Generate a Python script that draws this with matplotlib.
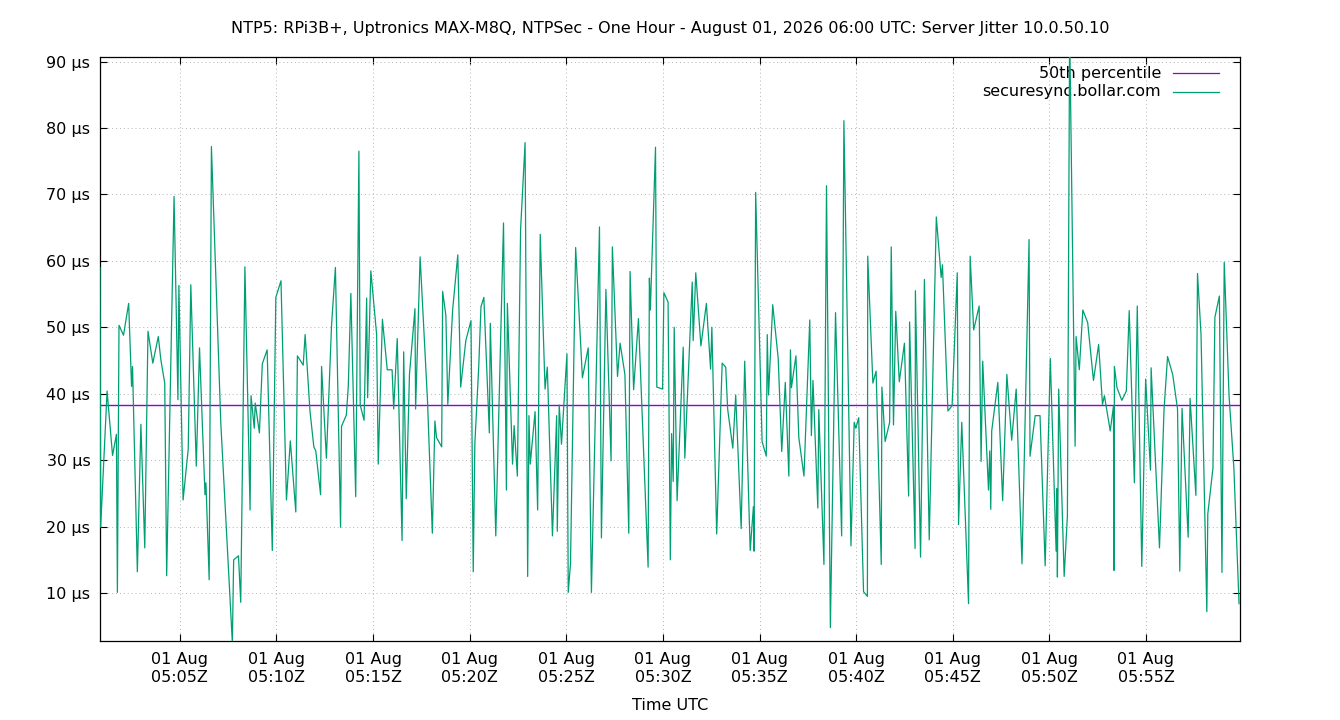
import matplotlib
matplotlib.use('Agg')
import matplotlib.pyplot as plt

title = ('NTP5: RPi3B+, Uptronics MAX-M8Q, NTPSec - One Hour - '
         'August 01, 2026 06:00 UTC: Server Jitter 10.0.50.10')
server = 'securesync.bollar.com'

# seconds after 05:00:00 UTC
t_sec = [52, 54, 74, 91, 103, 106, 111, 125, 141, 150, 153, 168, 179, 191, 201, 216,
         233, 241, 253, 259, 282, 294, 297, 310, 326, 334, 351, 361, 378, 381, 391, 398,
         427, 463, 467, 482, 489, 502, 518, 521, 531, 534, 547, 556, 571, 587, 598, 614, 631,
         643, 660, 665, 683, 689, 704, 716, 722, 737, 740, 755, 771, 783, 799, 802, 817,
         823, 831, 846, 856, 860, 872, 880, 883, 893, 911, 916, 929, 944, 959, 964, 975,
         990, 995, 1003, 1013, 1030, 1032, 1046, 1069, 1084, 1092, 1097, 1113, 1116, 1126,
         1132, 1147, 1163, 1172, 1188, 1204, 1211,
         1216, 1228, 1235, 1244, 1261, 1264, 1281, 1305, 1314, 1317, 1333, 1338, 1348, 1358,
         1372, 1380, 1384, 1388, 1403, 1411, 1419, 1434, 1441, 1457, 1470, 1472, 1478, 1485,
         1502, 1506, 1513, 1529, 1550, 1568, 1578, 1603, 1609, 1623, 1639, 1643, 1659, 1667,
         1682, 1694, 1698, 1709, 1724, 1754, 1758, 1761, 1777, 1781, 1799, 1803, 1816,
         1823, 1827, 1832, 1835, 1844, 1863, 1868, 1891, 1894, 1902, 1918, 1935, 1948, 1952,
         1967, 1984, 1995, 2001, 2017, 2026, 2043, 2054, 2071, 2081, 2083, 2088, 2108, 2121,
         2124, 2128, 2141, 2158, 2169, 2180, 2191, 2196, 2199, 2213, 2222, 2238, 2256, 2261,
         2266, 2281, 2284, 2300, 2308, 2320, 2336, 2355, 2362, 2384, 2394, 2399, 2408,
         2423, 2435, 2436, 2452, 2462, 2478, 2480, 2490, 2504, 2509, 2516, 2523, 2534, 2550,
         2563, 2566, 2583, 2584, 2600, 2612, 2627, 2649, 2664, 2668, 2685, 2698, 2714, 2718,
         2728, 2749, 2754, 2765, 2782, 2788, 2793, 2811, 2815, 2818, 2821, 2840, 2855, 2868,
         2883, 2897, 2915, 2937, 2940, 2956, 2971, 2987,
         3003, 3021, 3023, 3025, 3029, 3046, 3056, 3063, 3080, 3083, 3093, 3104, 3119, 3137,
         3153, 3165, 3171, 3189, 3199, 3201, 3202, 3210, 3225, 3239, 3248, 3264, 3273, 3287,
         3299, 3314, 3316, 3342, 3356, 3367, 3383, 3398, 3405, 3412, 3431, 3437, 3455, 3460,
         3471, 3489, 3492, 3508, 3514, 3528, 3536, 3543, 3558, 3573, 3589]

jitter_us = [59, 19.9, 40.4, 30.7, 33.9, 10.1, 50.3, 48.8, 53.6, 41.1, 44.1, 13.2, 35.4, 16.8,
             49.4, 44.6, 48.6, 45.1, 41.6, 12.6, 69.7, 39.1, 56.3, 24.0, 31.7, 56.4, 29.1, 46.9,
             24.8, 26.6, 12.0, 77.2, 35.7, 2.5, 15.0, 15.6, 8.6, 59.1, 22.5, 39.7, 34.8, 38.6,
             34.1, 44.5, 46.6, 16.4, 54.5, 57.0, 24.0,
             32.9, 22.2, 45.7, 44.3, 48.9, 37.4, 32.0, 31.4, 24.8, 44.1, 30.3, 50.3, 59.0, 19.9,
             35.1, 36.8, 41.1, 55.1, 24.5, 76.5, 38.3, 36.0, 54.4, 39.4, 58.5, 48.9, 29.4, 51.2,
             43.6, 43.6, 37.7, 48.3, 17.9, 46.3, 24.2, 42.9, 52.8, 37.7, 60.6, 38.9, 19.0, 35.9,
             33.4, 32.0, 55.4, 51.8, 38.4, 52.6, 60.9, 41.0, 48.0, 51.0, 13.2,
             32.5, 44.0, 53.1, 54.5, 34.1, 50.6, 18.6, 65.7, 25.5, 53.6, 29.4, 35.2, 27.6, 64.7,
             77.8, 12.5, 36.7, 29.4, 37.3, 22.5, 64.0, 40.7, 44.0, 18.6, 36.7, 19.3, 38.3, 32.4,
             46.0, 10.1, 14.4, 62.0, 42.4, 46.9, 10.1, 65.1, 18.3, 55.7, 29.9, 62.1, 42.6, 47.6,
             42.9, 19.0, 58.4, 40.6, 51.3, 13.9, 57.4, 52.6, 77.1, 41.0, 40.7, 55.2, 53.8,
             15.0, 34.0, 26.8, 50.0, 23.9, 47.0, 30.3, 56.8, 48.0, 58.2, 47.2, 53.6, 43.7, 50.0,
             18.9, 44.6, 44.0, 37.7, 31.8, 39.8, 19.7, 44.9, 16.4, 23.0, 16.3, 70.3, 32.8, 30.6,
             48.9, 39.8, 53.4, 45.3, 31.3, 41.7, 27.6, 46.6, 40.9, 45.7, 33.4, 27.6, 51.1, 33.7,
             42.0, 22.8, 37.6, 14.3, 71.3, 4.8, 52.2, 18.6, 81.1, 17.1, 35.7, 34.8, 36.4,
             10.2, 9.5, 60.7, 41.6, 43.4, 14.3, 41.0, 32.8, 35.7, 62.1, 35.3, 52.4, 41.8, 47.6,
             24.6, 50.8, 16.7, 55.5, 15.4, 57.2, 18.0, 66.6, 57.5, 59.4, 37.4, 38.2, 58.2, 20.3,
             35.7, 8.4, 60.7, 49.6, 53.2, 29.8, 44.9, 25.5, 31.4, 22.6, 34.4, 41.7, 23.9, 42.9,
             33.0, 40.7, 14.4, 63.2, 30.6, 36.7, 36.7, 14.1,
             45.3, 16.3, 25.7, 12.4, 40.7, 12.5, 21.6, 95, 32.1, 48.6, 43.6, 52.6, 50.7, 42.0,
             47.4, 38.4, 39.7, 34.4, 38.1, 13.4, 44.1, 40.9, 39.0, 40.4, 52.5, 26.6, 53.2, 14.0,
             42.2, 28.5, 43.9, 16.8, 37.5, 45.6, 42.9, 37.7, 13.3, 37.8, 18.4, 39.3, 24.7, 58.1,
             48.9, 7.2, 21.9, 28.8, 51.5, 54.7, 13.1, 59.8, 39.7, 28.8, 8.4]

p50 = 38.3

x_lim = (52, 3592)
y_lim = (2.78, 90.68)
x_ticks = [300, 600, 900, 1200, 1500, 1800, 2100, 2400, 2700, 3000, 3300]
x_labels = ['01 Aug\n05:%02dZ' % (s // 60) for s in x_ticks]
y_ticks = [10, 20, 30, 40, 50, 60, 70, 80, 90]
y_labels = ['%d µs' % v for v in y_ticks]

green = '#009e73'
purple = '#9400d3'
fs = 11.5

plt.rcParams['font.size'] = fs

fig = plt.figure(figsize=(13.4, 7.2), dpi=100)
ax = fig.add_axes([100 / 1340, 1 - 641 / 720, 1140 / 1340, 584 / 720])

ax.axhline(p50, color=purple, lw=1.0, zorder=3)
ax.plot(t_sec, jitter_us, color=green, lw=0.9, zorder=4)

ax.set_xlim(*x_lim)
ax.set_ylim(*y_lim)
ax.set_xticks(x_ticks)
ax.set_xticklabels(x_labels)
ax.set_yticks(y_ticks)
ax.set_yticklabels(y_labels)
for lab in ax.get_xticklabels():
    lab.set_linespacing(1.2)

ax.tick_params(direction='in', length=5, width=0.8, top=True, right=True,
               labelsize=fs, colors='black')
ax.tick_params(axis='y', pad=7)
ax.tick_params(axis='x', pad=8)
ax.grid(True, color='#b4b4b4', linestyle=(0, (1, 3)), lw=0.7)
for sp in ax.spines.values():
    sp.set_linewidth(0.9)

ax.set_xlabel('Time UTC', fontsize=fs)
ax.xaxis.label.set_va('center')
ax.xaxis.set_label_coords(0.5, -(706 - 641) / 584)

fig.text(0.5, 1 - 28 / 720, title, ha='center', va='center', fontsize=fs)

# key, gnuplot style: right aligned text, sample line after it
for i, (name, col) in enumerate([('50th percentile', purple), (server, green)]):
    ky = (641 - 73.3 - i * 18.4) / 584
    ax.text(0.9307, ky, name, transform=ax.transAxes, ha='right', va='center', fontsize=fs)
    ax.plot([0.941, 0.9816], [ky, ky], transform=ax.transAxes, color=col, lw=0.9)

fig.savefig('out.png', dpi=100)
